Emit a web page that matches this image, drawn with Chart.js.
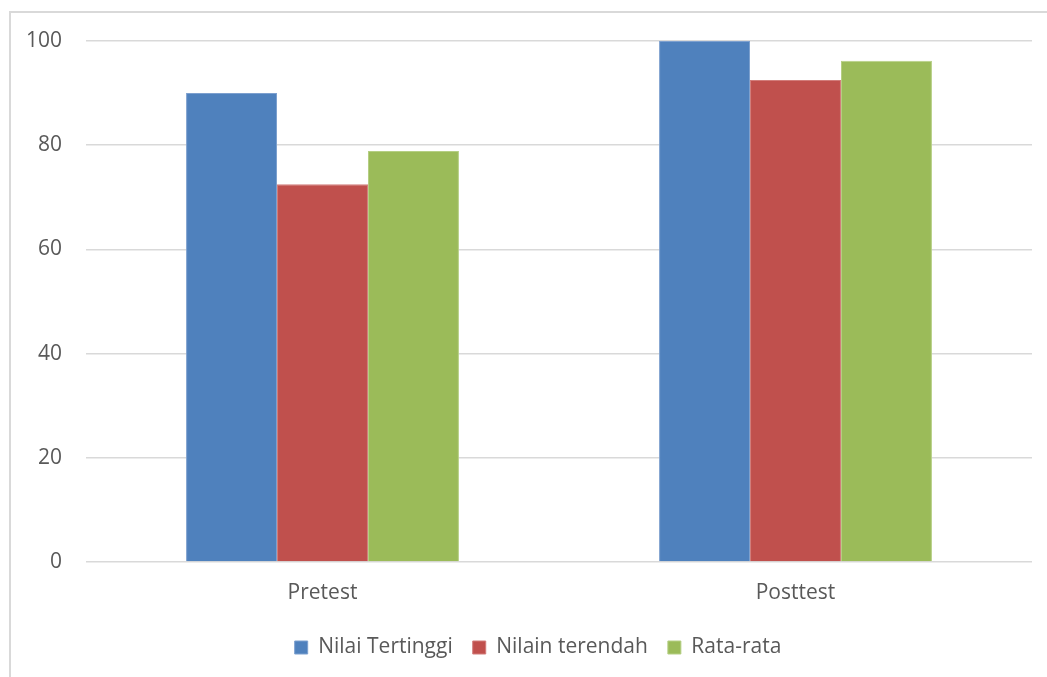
<!DOCTYPE html>
<html>
<head>
<meta charset="utf-8">
<script src="https://cdn.jsdelivr.net/npm/chart.js@4/dist/chart.umd.min.js"></script>
<style>
  html, body { margin: 0; padding: 0; background: #ffffff; }
  #wrap { width: 1047px; height: 677px; position: relative; }
</style>
</head>
<body>
<div id="wrap"><canvas id="c" width="1047" height="677"></canvas></div>
<script>
const categories = ['Pretest', 'Posttest'];
const seriesNames = ['Nilai Tertinggi', 'Nilain terendah', 'Rata-rata'];
const nilaiTertinggi = [90, 100];
const nilaiTerendah = [72.5, 92.5];
const rataRata = [78.9, 96.2];
const yTicks = [0, 20, 40, 60, 80, 100];

const fillColors = ['#4F81BD', '#C0504D', '#9BBB59'];
const edgeColors = ['#7DA0CF', '#D27C7A', '#B5CF84'];
const textColor = '#595959';
const fontFamily = '"Open Sans", sans-serif';
const fontSize = 21;

// Outer frame around the chart (its right and bottom edges lie outside the canvas)
const framePlugin = {
  id: 'frame',
  beforeDraw(chart) {
    const ctx = chart.ctx;
    ctx.save();
    ctx.fillStyle = '#ffffff';
    ctx.fillRect(0, 0, chart.width, chart.height);
    ctx.strokeStyle = '#D9D9D9';
    ctx.lineWidth = 2;
    ctx.strokeRect(10, 12, chart.width + 20, chart.height + 20);
    ctx.restore();
  }
};

// Centre the legend under the plot area rather than the whole canvas
const legendShiftPlugin = {
  id: 'legendShift',
  afterLayout(chart) {
    const lg = chart.legend;
    if (!lg) return;
    const shift = 22;
    lg.left += shift;
    lg.right += shift;
    if (lg.legendHitBoxes) lg.legendHitBoxes.forEach(b => { b.left += shift; });
  }
};

const values = [nilaiTertinggi, nilaiTerendah, rataRata];

new Chart(document.getElementById('c'), {
  type: 'bar',
  data: {
    labels: categories,
    datasets: seriesNames.map((name, i) => ({
      label: name,
      data: values[i],
      backgroundColor: fillColors[i],
      borderColor: edgeColors[i],
      borderWidth: 1,
      barPercentage: 1.0,
      categoryPercentage: 0.577
    }))
  },
  options: {
    responsive: false,
    animation: false,
    layout: { padding: { top: 41, right: 15, left: 0, bottom: 9 } },
    plugins: {
      legend: {
        position: 'bottom',
        labels: {
          boxWidth: 13,
          boxHeight: 13,
          padding: 20,
          color: textColor,
          font: { family: fontFamily, size: fontSize }
        }
      },
      tooltip: { enabled: false }
    },
    scales: {
      x: {
        afterFit(scale) { scale.height = 55; },
        grid: { display: false, drawTicks: false },
        border: { display: false },
        ticks: { color: textColor, padding: 18, font: { family: fontFamily, size: fontSize } }
      },
      y: {
        min: 0,
        max: 100,
        afterFit(scale) { scale.width = 86; },
        afterBuildTicks(scale) { scale.ticks = yTicks.map(v => ({ value: v })); },
        grid: { color: '#D9D9D9', lineWidth: 1.5, drawTicks: false },
        border: { display: false },
        ticks: { color: textColor, padding: 24, font: { family: fontFamily, size: fontSize } }
      }
    }
  },
  plugins: [framePlugin, legendShiftPlugin]
});
</script>
</body>
</html>
